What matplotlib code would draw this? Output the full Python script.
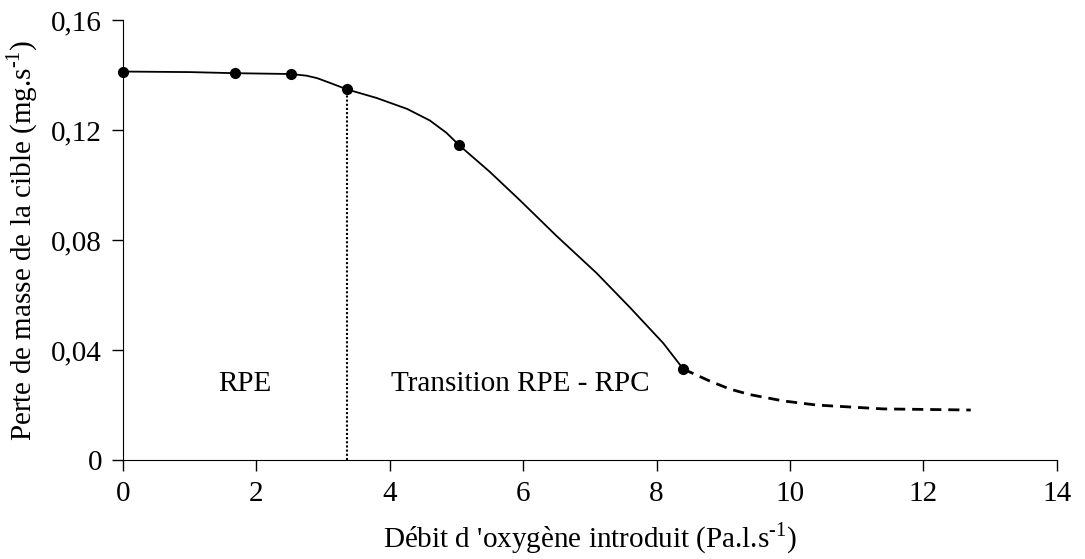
import matplotlib.pyplot as plt
from matplotlib.ticker import FuncFormatter

# measured points
debit = [0, 1.68, 2.52, 3.36, 5.04, 8.4]
perte = [0.1413, 0.1407, 0.1404, 0.1348, 0.1145, 0.0331]

# trace of the hand-drawn solid curve
courbe_x = [0, 1.0, 1.68, 2.52, 2.75, 2.91, 3.1, 3.36, 3.8, 4.26, 4.6, 4.85, 5.04, 5.5, 5.95, 6.5, 7.1, 7.6, 8.1, 8.4]
courbe_y = [0.1413, 0.1411, 0.1407, 0.1404, 0.1398, 0.1389, 0.1372, 0.1348, 0.1317, 0.1277, 0.1235, 0.1190, 0.1145, 0.1048, 0.0945, 0.0815, 0.068, 0.0555, 0.0425, 0.0331]

# dashed extrapolation
tiret_x = [8.4, 8.8, 9.1, 9.4, 9.9, 10.4, 11.4, 12.71]
tiret_y = [0.0331, 0.0287, 0.0258, 0.0238, 0.0215, 0.0200, 0.0186, 0.0182]

limite_x = 3.36
zones = ['RPE', 'Transition RPE - RPC']
zones_x = [1.83, 5.95]
zones_y = [0.0275, 0.0275]

plt.rcParams['font.family'] = ['Liberation Serif', 'DejaVu Serif']
plt.rcParams['mathtext.fontset'] = 'custom'
plt.rcParams['mathtext.rm'] = 'Liberation Serif'

fig = plt.figure(figsize=(10.85, 5.59), dpi=100)
ax = fig.add_axes([0.1134, 0.177, 0.8606, 0.787])

ax.plot(courbe_x, courbe_y, color='black', lw=1.3)
ax.plot(tiret_x, tiret_y, color='black', lw=2, linestyle=(0, (4, 2.5)))
ax.plot(debit, perte, 'o', color='black', markersize=7, clip_on=False, zorder=5)
ax.plot([limite_x, limite_x], [0, perte[3]], color='black', lw=1.5, linestyle=(0, (1, 1)))

for t, x, y in zip(zones, zones_x, zones_y):
    ax.text(x, y, t, ha='center', va='center', fontsize=21)

ax.set_xlim(0, 14)
ax.set_ylim(0, 0.16)
ax.set_xticks(range(0, 15, 2))
ax.set_yticks([0, 0.04, 0.08, 0.12, 0.16])
ax.yaxis.set_major_formatter(FuncFormatter(lambda v, p: '0' if v == 0 else f'{v:.2f}'.replace('.', ',')))

ax.spines['top'].set_visible(False)
ax.spines['right'].set_visible(False)
ax.tick_params(direction='out', length=8, width=1, labelsize=21, pad=7)

ax.set_xlabel("Débit d 'oxygène introduit (Pa.l.s$^{\\text{-1}}$)", fontsize=21, labelpad=10)
ax.set_ylabel("Perte de masse de la cible (mg.s$^{\\text{-1}}$)", fontsize=21, labelpad=8)

fig.savefig('out.png', dpi=100)
